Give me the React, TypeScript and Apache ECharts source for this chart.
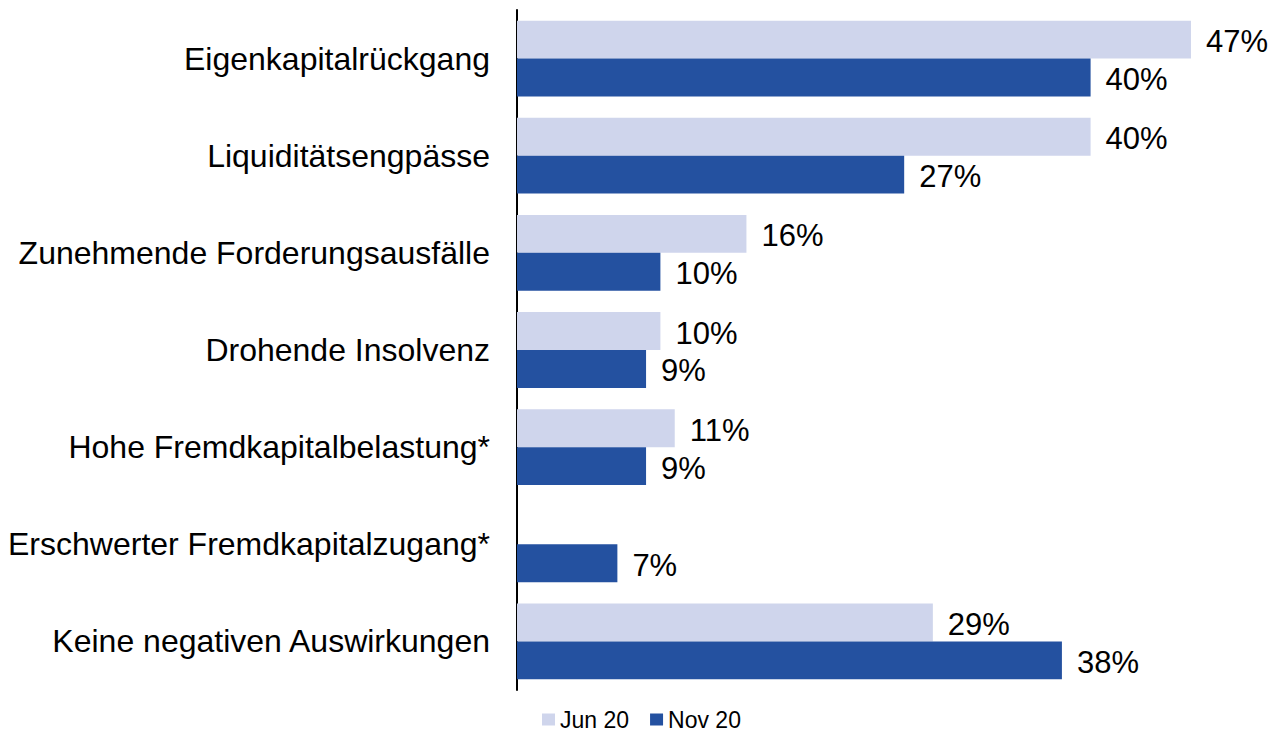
import React, { useEffect, useRef } from "react";
import * as echarts from "echarts";

const categories = [
  "Eigenkapitalrückgang",
  "Liquiditätsengpässe",
  "Zunehmende Forderungsausfälle",
  "Drohende Insolvenz",
  "Hohe Fremdkapitalbelastung*",
  "Erschwerter Fremdkapitalzugang*",
  "Keine negativen Auswirkungen",
];
const jun20 = [47, 40, 16, 10, 11, null, 29];
const nov20 = [40, 27, 10, 9, 9, 7, 38];
const seriesNames = ["Jun 20", "Nov 20"];

const FONT = "'Liberation Sans', Arial, sans-serif";

export default function App() {
  const ref = useRef<HTMLDivElement>(null);
  useEffect(() => {
    if (!ref.current) return;
    const chart = echarts.init(ref.current, undefined, { renderer: "svg" });
    const label = {
      show: true,
      position: "right",
      distance: 15,
      offset: [0, 2],
      fontSize: 31,
      color: "#000",
      fontFamily: FONT,
      formatter: (p: any) => `${p.value}%`,
    };
    chart.setOption({
      animation: false,
      backgroundColor: "#fff",
      textStyle: { fontFamily: FONT },
      grid: { left: 517, right: 40, top: 10, bottom: 41, containLabel: false },
      legend: {
        left: 542,
        top: 708,
        padding: 0,
        icon: "rect",
        itemWidth: 13,
        itemHeight: 12,
        itemGap: 21,
        textStyle: { fontSize: 23, color: "#000", fontFamily: FONT },
        data: seriesNames,
      },
      xAxis: {
        type: "value",
        min: 0,
        max: 50,
        show: false,
        splitLine: { show: false },
      },
      yAxis: {
        type: "category",
        inverse: true,
        data: categories,
        axisLine: { show: true, lineStyle: { color: "#000", width: 2 } },
        axisTick: { show: false },
        axisLabel: { fontSize: 32, color: "#000", margin: 27, fontFamily: FONT },
      },
      series: [
        {
          name: seriesNames[0],
          type: "bar",
          data: jun20,
          barGap: "0%",
          barCategoryGap: "22%",
          itemStyle: { color: "#CFD5EC" },
          label,
        },
        {
          name: seriesNames[1],
          type: "bar",
          data: nov20,
          barGap: "0%",
          barCategoryGap: "22%",
          itemStyle: { color: "#2451A0" },
          label,
        },
      ],
    });
    return () => chart.dispose();
  }, []);
  return (
    <div
      ref={ref}
      style={{ position: "fixed", left: 0, top: 0, width: 1274, height: 731 }}
    />
  );
}
